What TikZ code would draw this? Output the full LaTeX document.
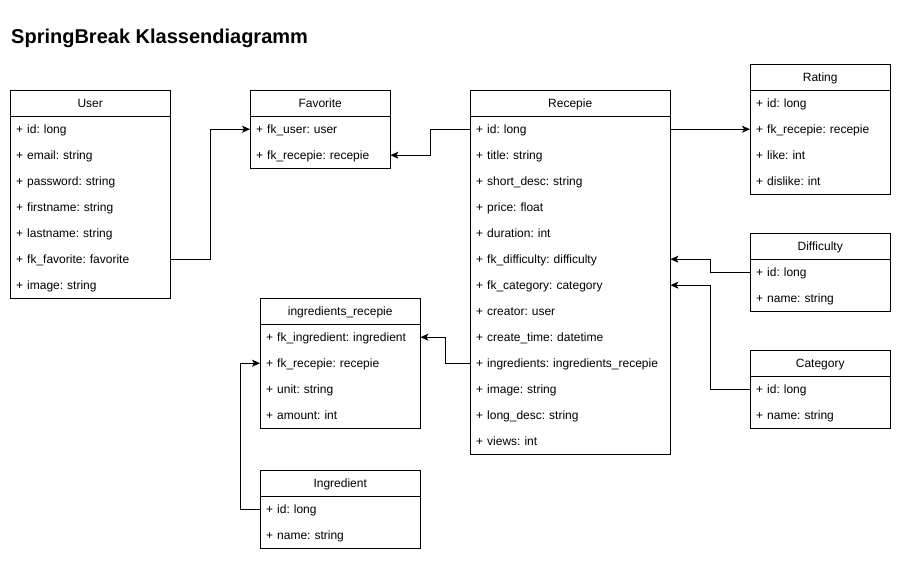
\documentclass[tikz,border=0pt]{standalone}
\usepackage{fontspec}
\setmainfont{Liberation Sans}
\usetikzlibrary{arrows.meta}
\frenchspacing
\tikzset{
  x=1pt, y=-1pt,
  hdr/.style={anchor=north west, text height=17pt, text depth=9pt, inner sep=0pt, font=\frenchspacing\fontsize{12}{14}\selectfont},
  row/.style={anchor=north west, text height=17pt, text depth=9pt, inner xsep=6pt, inner ysep=0pt, align=left, font=\frenchspacing\fontsize{12}{14}\selectfont},
  boxline/.style={draw=black, line width=1pt},
  conn/.style={draw=black, line width=1pt, -{Stealth[length=8pt, width=7pt, inset=2pt]}},
}
% #1 id, #2 x, #3 y, #4 width, #5 number of rows, #6 title, #7 rows (name/text)
\newcommand\mkclass[7]{%
  \node[hdr, minimum width=#4pt] (#1) at (#2,#3) {#6};
  \foreach [count=\i] \n/\t in {#7} {
    \node[row, text width=#4pt-12pt] (#1-\n) at (#2,#3+26*\i) {\t};
  }
  \draw[boxline] (#2,#3) rectangle (#2+#4,#3+26+26*#5);
  \draw[boxline] (#2,#3+26) -- (#2+#4,#3+26);
}
\begin{document}
\begin{tikzpicture}
\useasboundingbox[fill=white] (0,0) rectangle (901,562);
\node[anchor=base west, inner sep=0pt, font=\fontsize{20}{24}\selectfont\bfseries] (title) at (11,43) {SpringBreak Klassendiagramm};

\mkclass{u}{10}{90}{160}{7}{User}{id/+ id: long, email/+ email: string, pw/+ password: string, fn/+ firstname: string, ln/+ lastname: string, fkfav/+ fk\_favorite: favorite, img/+ image: string}

\mkclass{f}{250}{90}{140}{2}{Favorite}{fkuser/+ fk\_user: user, fkrec/+ fk\_recepie: recepie}

\mkclass{r}{470}{90}{200}{13}{Recepie}{id/+ id: long, title/+ title: string, sd/+ short\_desc: string, price/+ price: float, dur/+ duration: int, fkdiff/+ fk\_difficulty: difficulty, fkcat/+ fk\_category: category, creator/+ creator: user, ct/+ create\_time: datetime, ingr/+ ingredients: ingredients\_recepie, img/+ image: string, ld/+ long\_desc: string, views/+ views: int}

\mkclass{rt}{750}{64}{140}{4}{Rating}{id/+ id: long, fkrec/+ fk\_recepie: recepie, like/+ like: int, dislike/+ dislike: int}

\mkclass{d}{750}{233}{140}{2}{Difficulty}{id/+ id: long, name/+ name: string}

\mkclass{c}{750}{350}{140}{2}{Category}{id/+ id: long, name/+ name: string}

\mkclass{ir}{260}{298}{160}{4}{ingredients\_recepie}{fking/+ fk\_ingredient: ingredient, fkrec/+ fk\_recepie: recepie, unit/+ unit: string, amount/+ amount: int}

\mkclass{i}{260}{470}{160}{2}{Ingredient}{id/+ id: long, name/+ name: string}

\draw[conn] (u-fkfav.east) -- ++(40,0) |- (f-fkuser.west);
\draw[conn] (r-id.west) -- ++(-40,0) |- (f-fkrec.east);
\draw[conn] (r-id.east) -- (rt-fkrec.west);
\draw[conn] (d-id.west) -- ++(-40,0) |- (r-fkdiff.east);
\draw[conn] (c-id.west) -- ++(-40,0) |- (r-fkcat.east);
\draw[conn] (r-ingr.west) -- ++(-25,0) |- (ir-fking.east);
\draw[conn] (i-id.west) -- ++(-20,0) |- (ir-fkrec.west);
\end{tikzpicture}
\end{document}
